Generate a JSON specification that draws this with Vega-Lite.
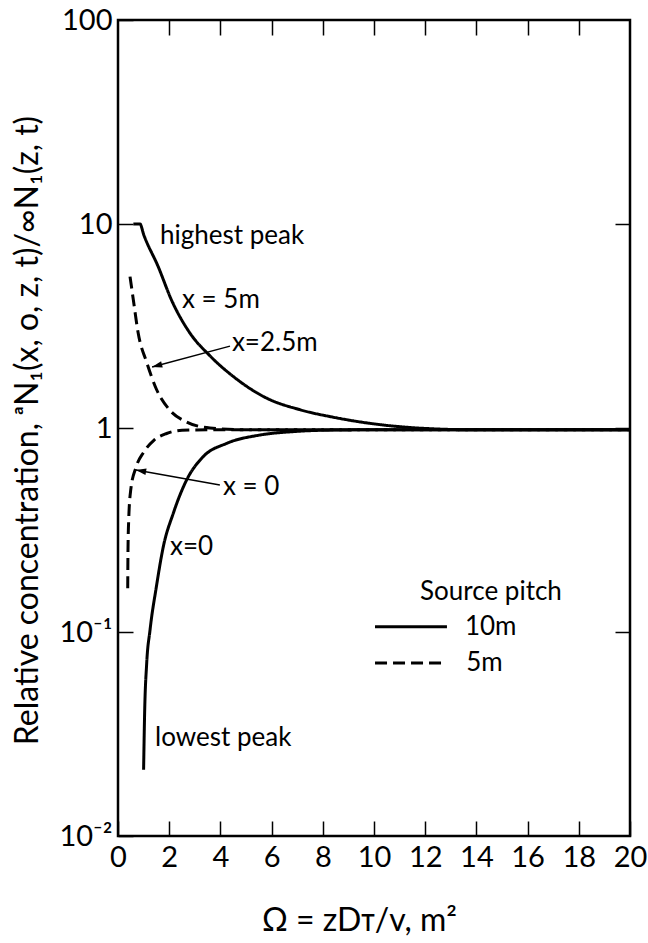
{
  "$schema": "https://vega.github.io/schema/vega-lite/v6.json",
  "width": 512,
  "height": 816,
  "autosize": "none",
  "padding": {"left": 118, "top": 20, "right": 18, "bottom": 107},
  "background": "white",
  "datasets": {
    "curves": [
      {"curve": "peak10", "pitch": "10m", "omega": 0.6, "conc": 10},
      {"curve": "peak10", "pitch": "10m", "omega": 0.86, "conc": 10},
      {"curve": "peak10", "pitch": "10m", "omega": 1.0, "conc": 8.9},
      {"curve": "peak10", "pitch": "10m", "omega": 1.57, "conc": 6.18},
      {"curve": "peak10", "pitch": "10m", "omega": 2.09, "conc": 4.24},
      {"curve": "peak10", "pitch": "10m", "omega": 2.81, "conc": 2.92},
      {"curve": "peak10", "pitch": "10m", "omega": 3.59, "conc": 2.26},
      {"curve": "peak10", "pitch": "10m", "omega": 4.5, "conc": 1.79},
      {"curve": "peak10", "pitch": "10m", "omega": 5.81, "conc": 1.4},
      {"curve": "peak10", "pitch": "10m", "omega": 7.1, "conc": 1.23},
      {"curve": "peak10", "pitch": "10m", "omega": 8.4, "conc": 1.13},
      {"curve": "peak10", "pitch": "10m", "omega": 9.7, "conc": 1.06},
      {"curve": "peak10", "pitch": "10m", "omega": 11.7, "conc": 1.0},
      {"curve": "peak10", "pitch": "10m", "omega": 14, "conc": 0.98},
      {"curve": "peak10", "pitch": "10m", "omega": 20, "conc": 0.98},
      {"curve": "low10", "pitch": "10m", "omega": 1.0, "conc": 0.0211},
      {"curve": "low10", "pitch": "10m", "omega": 1.04, "conc": 0.04},
      {"curve": "low10", "pitch": "10m", "omega": 1.12, "conc": 0.07},
      {"curve": "low10", "pitch": "10m", "omega": 1.25, "conc": 0.102},
      {"curve": "low10", "pitch": "10m", "omega": 1.5, "conc": 0.167},
      {"curve": "low10", "pitch": "10m", "omega": 1.77, "conc": 0.262},
      {"curve": "low10", "pitch": "10m", "omega": 2.16, "conc": 0.382},
      {"curve": "low10", "pitch": "10m", "omega": 2.68, "conc": 0.556},
      {"curve": "low10", "pitch": "10m", "omega": 3.33, "conc": 0.724},
      {"curve": "low10", "pitch": "10m", "omega": 4.25, "conc": 0.841},
      {"curve": "low10", "pitch": "10m", "omega": 5.55, "conc": 0.924},
      {"curve": "low10", "pitch": "10m", "omega": 6.85, "conc": 0.96},
      {"curve": "low10", "pitch": "10m", "omega": 8.0, "conc": 0.975},
      {"curve": "low10", "pitch": "10m", "omega": 10, "conc": 0.98},
      {"curve": "low10", "pitch": "10m", "omega": 20, "conc": 0.98},
      {"curve": "peak5", "pitch": "5m", "omega": 0.47, "conc": 5.52},
      {"curve": "peak5", "pitch": "5m", "omega": 0.6, "conc": 4.24},
      {"curve": "peak5", "pitch": "5m", "omega": 0.79, "conc": 2.91},
      {"curve": "peak5", "pitch": "5m", "omega": 1.12, "conc": 2.1},
      {"curve": "peak5", "pitch": "5m", "omega": 1.51, "conc": 1.54},
      {"curve": "peak5", "pitch": "5m", "omega": 2.03, "conc": 1.22},
      {"curve": "peak5", "pitch": "5m", "omega": 2.68, "conc": 1.07},
      {"curve": "peak5", "pitch": "5m", "omega": 3.59, "conc": 1.0},
      {"curve": "peak5", "pitch": "5m", "omega": 5, "conc": 0.98},
      {"curve": "peak5", "pitch": "5m", "omega": 20, "conc": 0.98},
      {"curve": "low5", "pitch": "5m", "omega": 0.38, "conc": 0.164},
      {"curve": "low5", "pitch": "5m", "omega": 0.39, "conc": 0.25},
      {"curve": "low5", "pitch": "5m", "omega": 0.42, "conc": 0.36},
      {"curve": "low5", "pitch": "5m", "omega": 0.5, "conc": 0.5},
      {"curve": "low5", "pitch": "5m", "omega": 0.7, "conc": 0.64},
      {"curve": "low5", "pitch": "5m", "omega": 1.0, "conc": 0.76},
      {"curve": "low5", "pitch": "5m", "omega": 1.4, "conc": 0.87},
      {"curve": "low5", "pitch": "5m", "omega": 1.9, "conc": 0.94},
      {"curve": "low5", "pitch": "5m", "omega": 2.5, "conc": 0.975},
      {"curve": "low5", "pitch": "5m", "omega": 3.5, "conc": 0.98},
      {"curve": "low5", "pitch": "5m", "omega": 20, "conc": 0.98}
    ],
    "key": [
      {"pitch": "10m", "omega": 10.04, "conc": 0.106},
      {"pitch": "10m", "omega": 12.85, "conc": 0.106},
      {"pitch": "5m", "omega": 10.04, "conc": 0.0705},
      {"pitch": "5m", "omega": 12.85, "conc": 0.0705}
    ],
    "notes": [
      {"omega": 1.64, "conc": 8.73, "text": "highest peak"},
      {"omega": 2.5, "conc": 4.24, "text": "x = 5m"},
      {"omega": 4.45, "conc": 2.61, "text": "x=2.5m"},
      {"omega": 4.1, "conc": 0.514, "text": "x = 0"},
      {"omega": 2.03, "conc": 0.261, "text": "x=0"},
      {"omega": 1.45, "conc": 0.0302, "text": "lowest peak"},
      {"omega": 11.8, "conc": 0.157, "text": "Source pitch"},
      {"omega": 13.55, "conc": 0.106, "text": "10m"},
      {"omega": 13.6, "conc": 0.0705, "text": "5m"}
    ],
    "arrows": [
      {"arrow": "a", "omega": 4.375, "conc": 2.52},
      {"arrow": "a", "omega": 1.33, "conc": 1.99},
      {"arrow": "b", "omega": 3.98, "conc": 0.526},
      {"arrow": "b", "omega": 0.7, "conc": 0.622}
    ],
    "tips": [
      {"arrow": "a", "omega": 1.33, "conc": 1.99},
      {"arrow": "b", "omega": 0.7, "conc": 0.622}
    ]
  },
  "layer": [
    {
      "data": {"name": "curves"},
      "mark": {"type": "line", "interpolate": "monotone", "strokeWidth": 3, "color": "black", "clip": true},
      "encoding": {
        "x": {
          "field": "omega", "type": "quantitative",
          "scale": {"domain": [0, 20], "nice": false, "zero": false},
          "axis": {
            "orient": "bottom", "values": [0, 2, 4, 6, 8, 10, 12, 14, 16, 18, 20],
            "labelPadding": 22, "labelFlush": false,
            "title": "Ω = zDᴛ/v, m²", "titleX": 241, "titleY": 84,
            "titleAlign": "center", "titleBaseline": "middle"
          }
        },
        "y": {
          "field": "conc", "type": "quantitative",
          "scale": {"type": "log", "domain": [0.01, 100], "nice": false},
          "axis": {
            "orient": "left", "values": [0.01, 0.1, 1, 10, 100],
            "labelPadding": 21, "labelFlush": false,
            "labelExpr": "datum.value < 0.05 ? '10⁻²' : datum.value < 0.5 ? '10⁻¹' : datum.value < 5 ? '1' : datum.value < 50 ? '10' : '100'",
            "title": "Relative concentration, ᵃN₁(x, o, z, t)/∞N₁(z, t)",
            "titleAngle": -90, "titleX": -91, "titleY": 410,
            "titleAlign": "center", "titleBaseline": "middle"
          }
        },
        "detail": {"field": "curve", "type": "nominal"},
        "strokeDash": {
          "field": "pitch", "type": "nominal",
          "scale": {"domain": ["10m", "5m"], "range": [[1, 0], [12, 6]]},
          "legend": null
        }
      }
    },
    {
      "data": {"name": "key"},
      "mark": {"type": "line", "strokeWidth": 3, "color": "black"},
      "encoding": {
        "x": {
          "field": "omega", "type": "quantitative",
          "axis": {"orient": "top", "values": [2, 4, 6, 8, 10, 12, 14, 16, 18], "labels": false, "title": null}
        },
        "y": {
          "field": "conc", "type": "quantitative",
          "axis": {"orient": "right", "values": [0.1, 1, 10], "labels": false, "title": null}
        },
        "detail": {"field": "pitch", "type": "nominal"},
        "strokeDash": {"field": "pitch", "type": "nominal", "legend": null}
      }
    },
    {
      "data": {"name": "arrows"},
      "mark": {"type": "line", "strokeWidth": 1.5, "color": "black"},
      "encoding": {
        "x": {"field": "omega", "type": "quantitative", "axis": null},
        "y": {"field": "conc", "type": "quantitative", "axis": null},
        "detail": {"field": "arrow", "type": "nominal"}
      }
    },
    {
      "data": {"name": "tips"},
      "transform": [{"filter": "datum.arrow == 'a'"}],
      "mark": {"type": "point", "shape": "M0,0L-0.32,1L0.32,1Z", "filled": true, "color": "black", "opacity": 1, "size": 420, "angle": 255},
      "encoding": {
        "x": {"field": "omega", "type": "quantitative", "axis": null},
        "y": {"field": "conc", "type": "quantitative", "axis": null}
      }
    },
    {
      "data": {"name": "tips"},
      "transform": [{"filter": "datum.arrow == 'b'"}],
      "mark": {"type": "point", "shape": "M0,0L-0.32,1L0.32,1Z", "filled": true, "color": "black", "opacity": 1, "size": 420, "angle": 280},
      "encoding": {
        "x": {"field": "omega", "type": "quantitative", "axis": null},
        "y": {"field": "conc", "type": "quantitative", "axis": null}
      }
    },
    {
      "data": {"name": "notes"},
      "mark": {"type": "text", "align": "left", "baseline": "middle", "font": "Lato", "fontSize": 26, "color": "black"},
      "encoding": {
        "x": {"field": "omega", "type": "quantitative", "axis": null},
        "y": {"field": "conc", "type": "quantitative", "axis": null},
        "text": {"field": "text"}
      }
    }
  ],
  "resolve": {"axis": {"x": "independent", "y": "independent"}},
  "config": {
    "view": {"stroke": "black", "strokeWidth": 2.5},
    "axis": {
      "domain": false, "grid": false,
      "ticks": true, "tickSize": -15, "tickWidth": 1.5, "tickColor": "black",
      "labelFont": "Lato", "labelFontSize": 29, "labelColor": "black",
      "titleFont": "Lato", "titleFontSize": 32, "titleFontWeight": "normal", "titleColor": "black"
    }
  }
}
